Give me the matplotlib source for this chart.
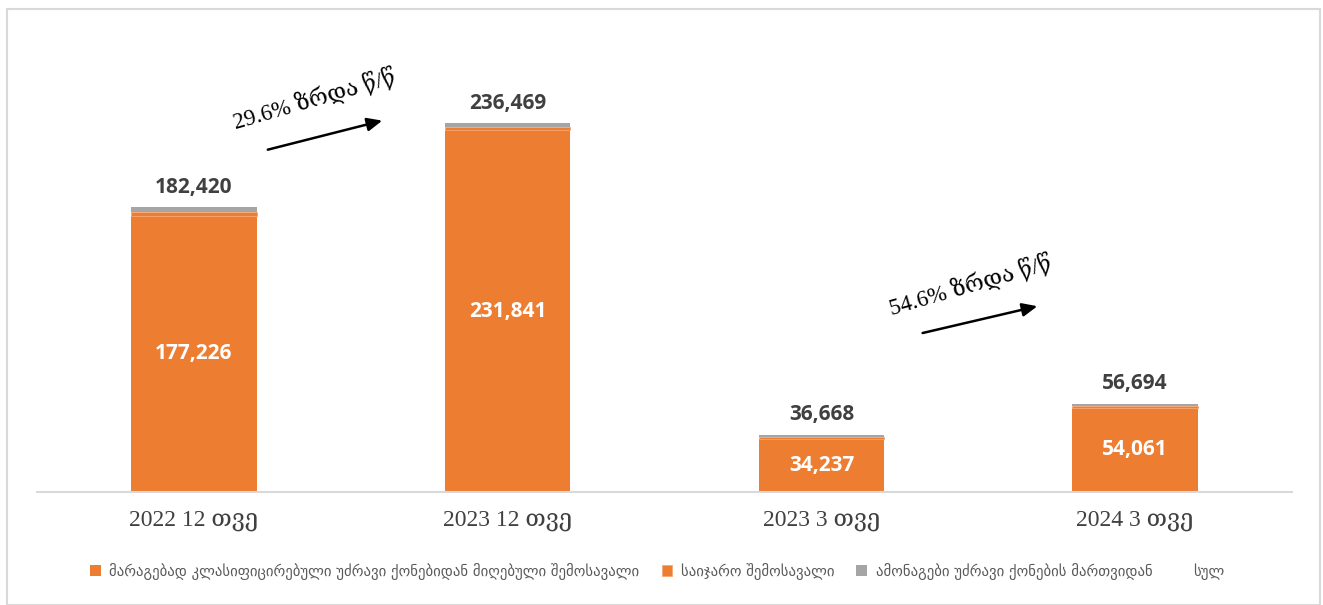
import matplotlib
matplotlib.use("Agg")
import matplotlib.pyplot as plt
from matplotlib.patches import Rectangle
import numpy as np

categories = ["2022 12 თვე", "2023 12 თვე", "2023 3 თვე", "2024 3 თვე"]
main_income = [177226, 231841, 34237, 54061]
foreign_income = [2300, 2000, 1000, 1300]
mgmt_income = [2894, 2628, 1431, 1333]
totals = [182420, 236469, 36668, 56694]
series_names = ["მარაგებად კლასიფიცირებული უძრავი ქონებიდან მიღებული შემოსავალი",
                "საიჯარო შემოსავალი",
                "ამონაგები უძრავი ქონების მართვიდან",
                "სულ"]
growth_labels = ["29.6% ზრდა წ/წ", "54.6% ზრდა წ/წ"]

ORANGE = "#ED7D31"
GREY = "#A5A5A5"

W, H = 1323, 605
fig = plt.figure(figsize=(W / 100, H / 100), dpi=100)
fig.patches.append(Rectangle((7 / W, 0), (1320 - 7) / W, (H - 9) / H, transform=fig.transFigure,
                             fill=False, edgecolor="#D9D9D9", linewidth=1.5))
ax = fig.add_axes([37 / W, (H - 492) / H, (1292 - 37) / W, (492 - 24) / H])

x = np.arange(len(categories))
bw = 0.4
ax.bar(x, main_income, bw, color=ORANGE, label=series_names[0])
b2 = np.array(main_income)
ax.bar(x, foreign_income, bw, bottom=b2, color=ORANGE, edgecolor="#F5A877", linewidth=0.6,
       label=series_names[1])
b3 = b2 + np.array(foreign_income)
ax.bar(x, mgmt_income, bw, bottom=b3, color=GREY, label=series_names[2])
ax.bar(x, [0] * len(x), bw, color="none", label=series_names[3])

ax.set_xlim(-0.5, 3.5)
ax.set_ylim(0, 300000)
for s in ["top", "right", "left"]:
    ax.spines[s].set_visible(False)
ax.spines["bottom"].set_color("#D9D9D9")
ax.spines["bottom"].set_linewidth(1.5)
ax.set_yticks([])
ax.set_xticks(x)
ax.set_xticklabels(categories, family=["Liberation Serif", "DejaVu Serif"], fontsize=17, color="#404040")
ax.tick_params(axis="x", length=0, pad=13)

for xi, v in zip(x, main_income):
    ax.text(xi, v / 2, f"{v:,}", ha="center", va="center", color="white", fontsize=15,
            fontweight="bold", family=["Open Sans", "DejaVu Sans"])
for xi, t in zip(x, totals):
    ax.text(xi, t + 6000, f"{t:,}", ha="center", va="bottom", color="#404040",
            fontsize=15, fontweight="bold", family=["Open Sans", "DejaVu Sans"])

# growth arrows
arrows = [((0.227, 219000), (0.609, 238500), (0.385, 252000)),
          ((2.314, 101500), (2.697, 119500), (2.475, 132500))]
for (start, end, tpos), lab in zip(arrows, growth_labels):
    ax.annotate("", xy=end, xytext=start,
                arrowprops=dict(arrowstyle="-|>,head_length=0.9,head_width=0.4", color="black", lw=1.8))
    ax.text(tpos[0], tpos[1], lab, rotation=16, ha="center", va="center", fontsize=16.5,
            family=["Liberation Serif", "DejaVu Serif"], color="black", rotation_mode="anchor")

leg = fig.legend(loc="center", bbox_to_anchor=(0.497, (H - 571) / H), ncol=4, frameon=False,
                 handlelength=0.7, handleheight=0.7, handletextpad=0.6, columnspacing=1.5,
                 prop={"family": ["DejaVu Sans"], "size": 10.6})
for t in leg.get_texts():
    t.set_color("#595959")

fig.savefig("out.png", dpi=100)
